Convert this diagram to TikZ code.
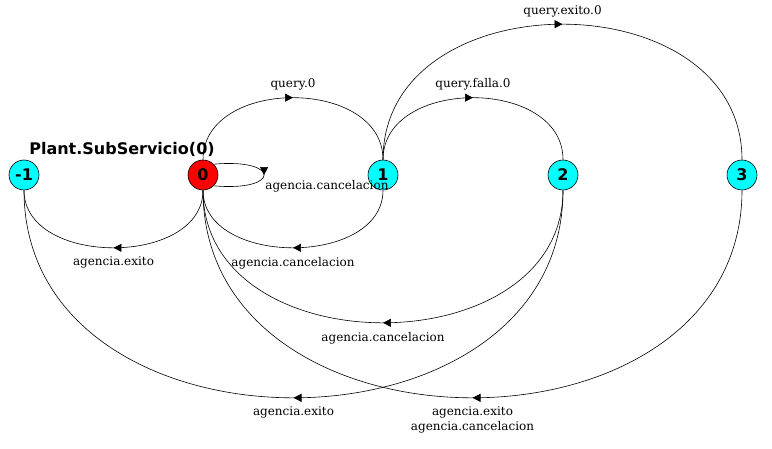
\documentclass[tikz,border=0pt]{standalone}
\usepackage{fontspec}
\setmainfont{DejaVu Serif}
\newfontfamily\statefont{DejaVu Sans}
\usetikzlibrary{arrows.meta,decorations.markings}

\definecolor{statecyan}{RGB}{0,255,255}
\definecolor{initred}{RGB}{255,0,0}

\tikzset{
  state/.style={circle, draw, semithick, fill=statecyan, minimum size=30pt, inner sep=0pt,
    font=\statefont\bfseries\fontsize{16}{16}\selectfont},
  trans/.style={semithick, postaction={decorate}, decoration={markings,
    mark=at position 0.5 with {\arrow{Triangle[length=8pt,width=8pt]}}}},
  lbl/.style={font=\fontsize{12}{15}\selectfont, inner sep=1pt, align=center}
}

\begin{document}
\begin{tikzpicture}[x=1pt,y=1pt]
  \useasboundingbox (0,0) rectangle (772,-449);
  % States
  \node[state] (sm1) at (24,-175) {-1};
  \node[state, fill=initred] (s0) at (203,-175) {0};
  \node[state] (s1) at (383,-175) {1};
  \node[state] (s2) at (563,-175) {2};
  \node[state] (s3) at (742,-175) {3};
  \node[font=\statefont\bfseries\fontsize{16}{16}\selectfont] (title) at (122,-149) {Plant.SubServicio(0)};
  % Transitions above
  \draw[trans] (s0) .. controls +(0,98) and +(0,98) .. (s1)
    node[lbl, midway, above=6pt] (l01) {query.0};
  \draw[trans] (s1) .. controls +(0,98) and +(0,98) .. (s2)
    node[lbl, midway, above=6pt] (l12) {query.falla.0};
  \draw[trans] (s1) .. controls +(0,196) and +(0,196) .. (s3)
    node[lbl, midway, above=6pt] (l13) {query.exito.0};
  % Self loop
  \draw[trans] (s0.45) .. controls +(67,6) and +(67,-6) .. (s0.-45)
    node[lbl, midway, anchor=north west, yshift=-4pt] (l00) {agencia.cancelacion};
  % Transitions below
  \draw[trans] (s0) .. controls +(0,-92) and +(0,-92) .. (sm1)
    node[lbl, midway, below=8pt] (l0m1) {agencia.exito};
  \draw[trans] (s1) .. controls +(0,-92) and +(0,-92) .. (s0)
    node[lbl, midway, below=8pt] (l10) {agencia.cancelacion};
  \draw[trans] (s2) .. controls +(0,-192) and +(0,-192) .. (s0)
    node[lbl, midway, below=8pt] (l20) {agencia.cancelacion};
  \draw[trans] (s2) .. controls +(0,-292) and +(0,-292) .. (sm1)
    node[lbl, midway, below=8pt] (l2m1) {agencia.exito};
  \draw[trans] (s3) .. controls +(0,-292) and +(0,-292) .. (s0)
    node[lbl, midway, below=8pt] (l30) {agencia.exito\\agencia.cancelacion};
\end{tikzpicture}
\end{document}
